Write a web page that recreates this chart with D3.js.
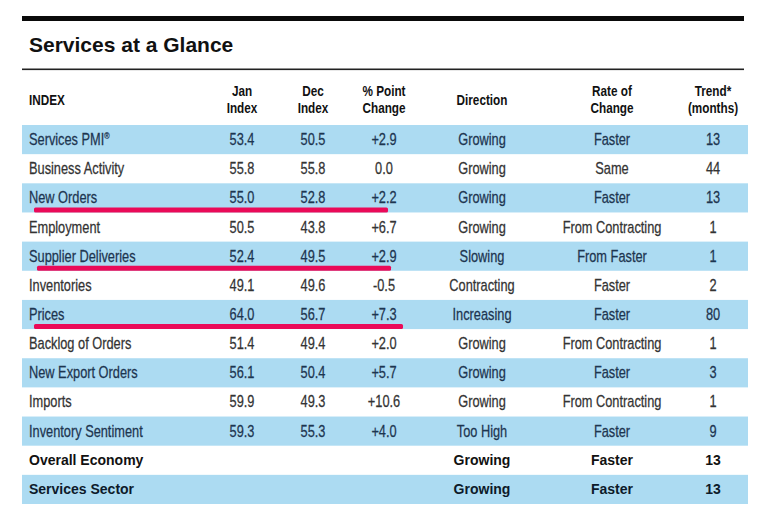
<!DOCTYPE html>
<html><head><meta charset="utf-8">
<script src="https://cdn.jsdelivr.net/npm/d3@7"></script>
<style>html,body{margin:0;padding:0;background:#fff;}</style>
</head><body>
<svg id="c" width="776" height="520"></svg>
<script>
const indexNames = ["Services PMI\u00AE","Business Activity","New Orders","Employment","Supplier Deliveries","Inventories","Prices","Backlog of Orders","New Export Orders","Imports","Inventory Sentiment","Overall Economy","Services Sector"];
const janValues = [53.4,55.8,55.0,50.5,52.4,49.1,64.0,51.4,56.1,59.9,59.3,null,null];
const decValues = [50.5,55.8,52.8,43.8,49.5,49.6,56.7,49.4,50.4,49.3,55.3,null,null];
const pointChange = [2.9,0.0,2.2,6.7,2.9,-0.5,7.3,2.0,5.7,10.6,4.0,null,null];
const directions = ["Growing","Growing","Growing","Growing","Slowing","Contracting","Increasing","Growing","Growing","Growing","Too High","Growing","Growing"];
const rates = ["Faster","Same","Faster","From Contracting","From Faster","Faster","Faster","From Contracting","Faster","From Contracting","Faster","Faster","Faster"];
const trends = [13,44,13,1,1,2,80,1,3,1,9,13,13];
const summaryRows = ["Overall Economy","Services Sector"];
const highlighted = ["New Orders","Supplier Deliveries","Prices"];
const columns = ["index","jan","dec","change","direction","rate","trend"];
const headerLines = {index:["INDEX"],jan:["Jan","Index"],dec:["Dec","Index"],change:["% Point","Change"],direction:["Direction"],rate:["Rate of","Change"],trend:["Trend*","(months)"]};
const title = "Services at a Glance";

const svg = d3.select("#c");
const left = 22, right = 748;
const xCol = d3.scaleOrdinal().domain(columns).range([29,242,313,384,482,612,713]);
const y = d3.scaleBand().domain(indexNames).range([125,504]).padding(0);
const fmtChange = v => v === null ? "" : (v === 0 ? "0.0" : (v > 0 ? "+" : "-") + d3.format(".1f")(Math.abs(v)));
const fmt1 = v => v === null ? "" : d3.format(".1f")(v);

// top bars
svg.append("rect").attr("x",left).attr("y",16).attr("width",744-left).attr("height",5).attr("fill","#0a0a0a");
svg.append("rect").attr("x",left).attr("y",68.5).attr("width",744-left).attr("height",1.6).attr("fill","#222");
svg.append("text").attr("x",29).attr("y",52).text(title)
  .attr("font-family","Liberation Sans, Arial, sans-serif").attr("font-weight","bold")
  .attr("font-size",21).attr("fill","#111");

// header
const FN = "Liberation Sans, Arial, sans-serif";
columns.forEach(c => {
  const lines = headerLines[c];
  lines.forEach((ln,i) => {
    const yy = lines.length === 1 ? 105 : 96 + i*17;
    svg.append("text")
      .attr("transform",`translate(${xCol(c)},${yy}) scale(0.84,1)`)
      .attr("text-anchor", c === "index" ? "start" : "middle")
      .attr("font-family",FN).attr("font-weight","bold").attr("font-size",14)
      .attr("fill","#111").text(ln);
  });
});

// rows
const rows = indexNames.map((n,i)=>({name:n,i,jan:janValues[i],dec:decValues[i],chg:pointChange[i],dir:directions[i],rate:rates[i],trend:trends[i]}));
svg.selectAll("rect.band").data(rows.filter(r=>r.i%2===0)).join("rect")
  .attr("class","band").attr("x",left).attr("width",right-left)
  .attr("y",d=>y(d.name)).attr("height",y.bandwidth()).attr("fill","#acdbf2");

rows.forEach(r => {
  const summary = summaryRows.includes(r.name);
  const blue = r.i%2===0;
  const col = summary ? (blue ? "#0d1a2a" : "#111") : (blue ? "#1d3550" : "#333");
  const cy = y(r.name) + y.bandwidth()/2 + 5.5;
  const cells = {index:r.name,jan:fmt1(r.jan),dec:fmt1(r.dec),change:fmtChange(r.chg),direction:r.dir,rate:r.rate,trend:String(r.trend)};
  columns.forEach(c => {
    if (!cells[c]) return;
    const t = svg.append("text")
      .attr("transform", summary ? `translate(${xCol(c)},${cy-1})` : `translate(${xCol(c)},${cy}) scale(0.8,1)`)
      .attr("text-anchor", c === "index" ? "start" : "middle")
      .attr("font-family",FN).attr("font-size", summary ? 14 : 16)
      .attr("font-weight", summary ? "bold" : "normal")
      .attr("fill",col).attr("stroke",col).attr("stroke-width", summary ? 0 : 0.25);
    if (c === "index" && r.name.endsWith("\u00AE")) {
      t.append("tspan").text(r.name.slice(0,-1));
      t.append("tspan").attr("font-size",9).attr("dy",-6).text("\u00AE");
    } else t.text(cells[c]);
  });
});

// hand-drawn highlight underlines
svg.selectAll("rect.hl").data(highlighted).join("rect")
  .attr("class","hl")
  .attr("x",(d,i)=>xCol("index")+5+(i===1?3:0))
  .attr("width",(d,i)=>xCol("change")-xCol("index")+(i===2?14:-1))
  .attr("y",d=>y(d)+y.bandwidth()-5)
  .attr("height",5).attr("rx",1.5)
  .attr("fill","#ea0a58");
</script>
</body></html>
